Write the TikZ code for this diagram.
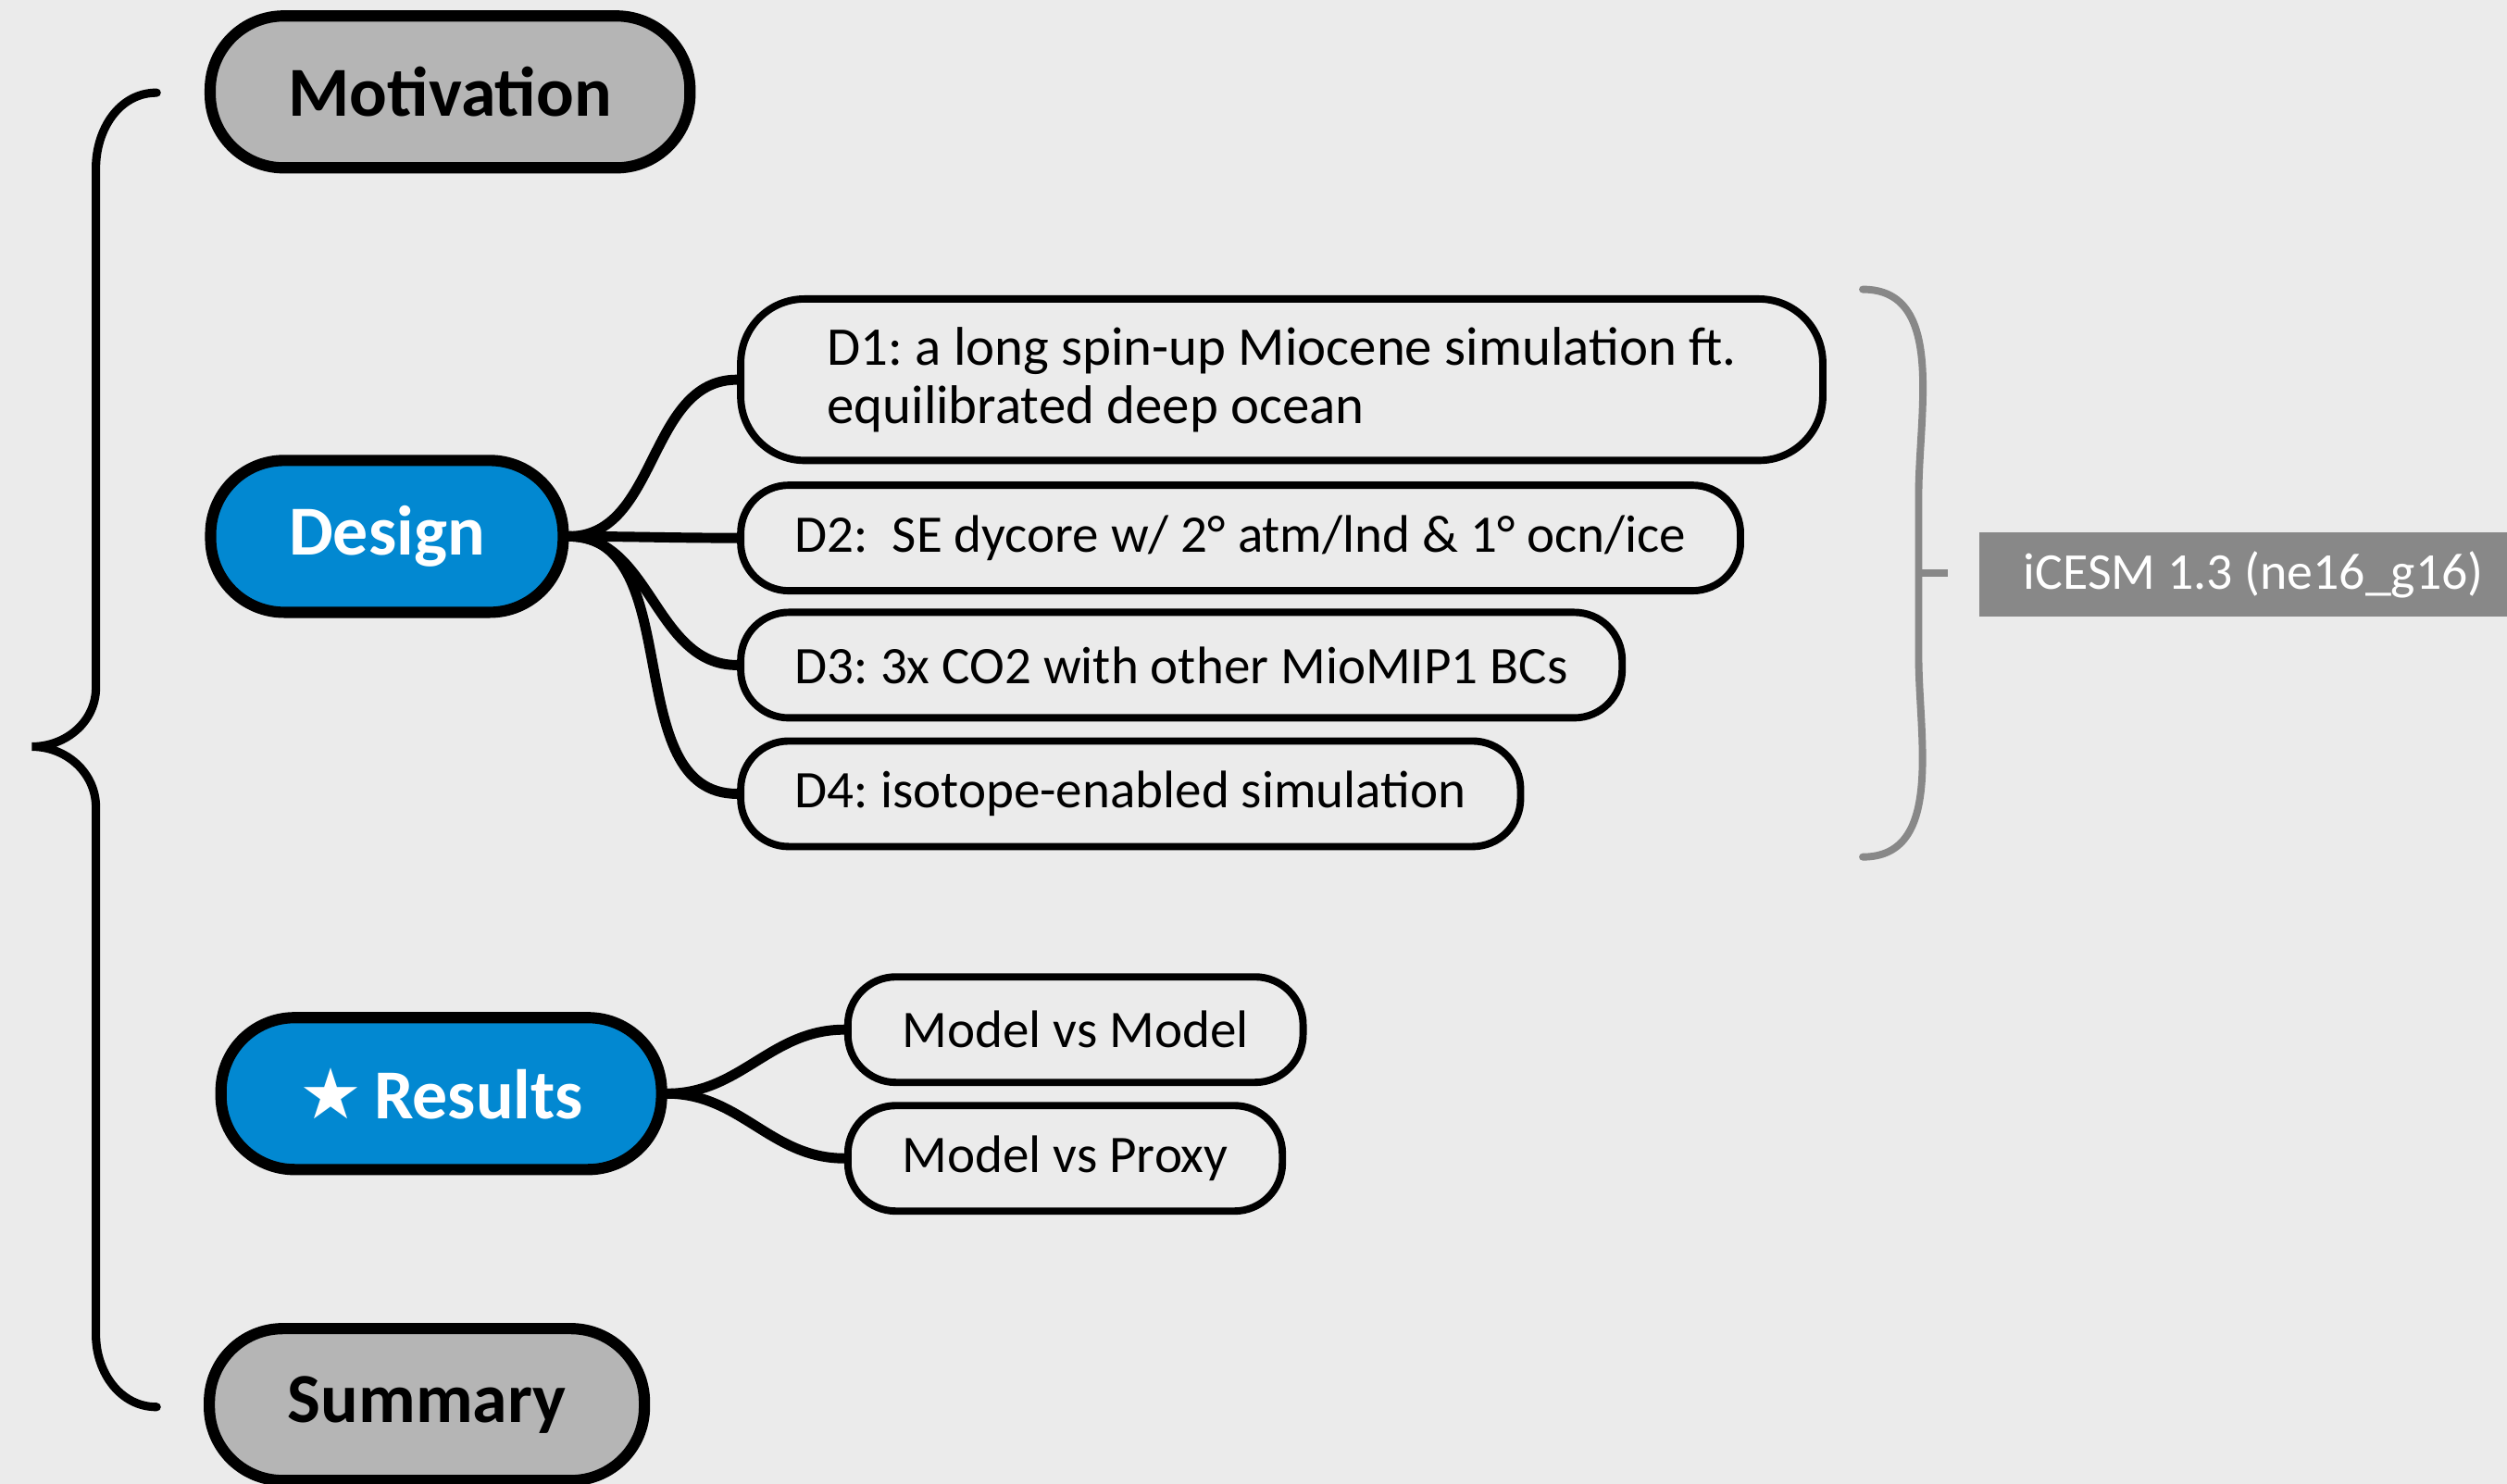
\documentclass[tikz,border=0pt]{standalone}
\usepackage{fontspec}
\setmainfont{Carlito}
\newfontfamily\symfont{DejaVu Sans}
\usetikzlibrary{graphs}
\definecolor{mm.bg}{HTML}{EBEBEB}
\definecolor{mm.gray}{HTML}{B5B5B5}
\definecolor{mm.blue}{HTML}{0288D1}
\definecolor{mm.label}{HTML}{888888}
\frenchspacing

\begin{document}
\begin{tikzpicture}
  \tikzset{topic/.append style={draw, line width=2pt, rounded corners=0.46cm,
      minimum height=0.95cm, inner xsep=0.49cm,
      font=\bfseries\fontsize{12.5}{15}\selectfont},
    leaf/.append style={draw, line width=1.3pt, rounded corners=0.3cm,
      anchor=west, minimum height=0.66cm, inner xsep=0.34cm, align=left,
      font=\fontsize{9.4}{10.3}\selectfont},
    branch/.style={line width=1.8pt, line cap=round, out=0, in=180}}
  \useasboundingbox (0,0) rectangle (15.68,-9.28);
  \fill[mm.bg] (0,0) rectangle (15.68,-9.28);

  % main topics
  \node[topic, fill=mm.gray] (motivation) at (2.815,-0.575) {Motivation};
  \node[topic, fill=mm.blue, text=white] (design) at (2.42,-3.355) {Design};
  \node[topic, fill=mm.blue, text=white] (results) at (2.76,-6.84)
    {{\symfont ★}\,Results};
  \node[topic, fill=mm.gray] (summary) at (2.67,-8.785) {Summary};

  % design branches
  \node[leaf, minimum height=1.01cm, rounded corners=0.4cm, inner xsep=0.54cm,
    font=\fontsize{9.7}{10.3}\selectfont] (d1) at (4.61,-2.375)
    {D1: a long spin-up Miocene simulation ft.\\equilibrated deep ocean};
  \node[leaf] (d2) at (4.61,-3.365) {D2:\ \ SE dycore w/ 2° atm/lnd \& 1° ocn/ice};
  \node[leaf] (d3) at (4.61,-4.16) {D3: 3x CO2 with other MioMIP1 BCs};
  \node[leaf] (d4) at (4.61,-4.965) {D4: isotope-enabled simulation};

  % results branches
  \node[leaf] (mvm) at (5.28,-6.44) {Model vs Model};
  \node[leaf] (mvp) at (5.28,-7.245) {Model vs Proxy};

  \graph[use existing nodes] {
    design --[branch] {d1, d2, d3, d4};
    results --[branch] {mvm, mvp};
  };

  % outline brace
  \draw[line width=1.5pt, line cap=round] (0.98,-0.58) to[out=180,in=90] (0.60,-1.05)
    -- (0.60,-4.30) to[out=-90,in=0] (0.20,-4.67) to[out=0,in=90] (0.60,-5.05)
    -- (0.60,-8.35) to[out=-90,in=180] (0.98,-8.80);

  % model bracket and label
  \draw[mm.label, line width=1.3pt, line cap=round] (11.65,-1.81)
    to[out=0,in=90] (12.0,-3.1) -- (12.0,-4.1) to[out=-90,in=0] (11.65,-5.36);
  \coordinate (brk) at (12.0,-3.585);
  \draw[mm.label, line width=1.3pt] (brk) -- ++(0.18,0);
  \node[fill=mm.label, text=white, anchor=west, minimum height=0.52cm,
    inner xsep=0.28cm, font=\fontsize{9.2}{11}\selectfont] (icesm) at (12.37,-3.595)
    {iCESM 1.3 (ne16\_g16)};
\end{tikzpicture}
\end{document}
